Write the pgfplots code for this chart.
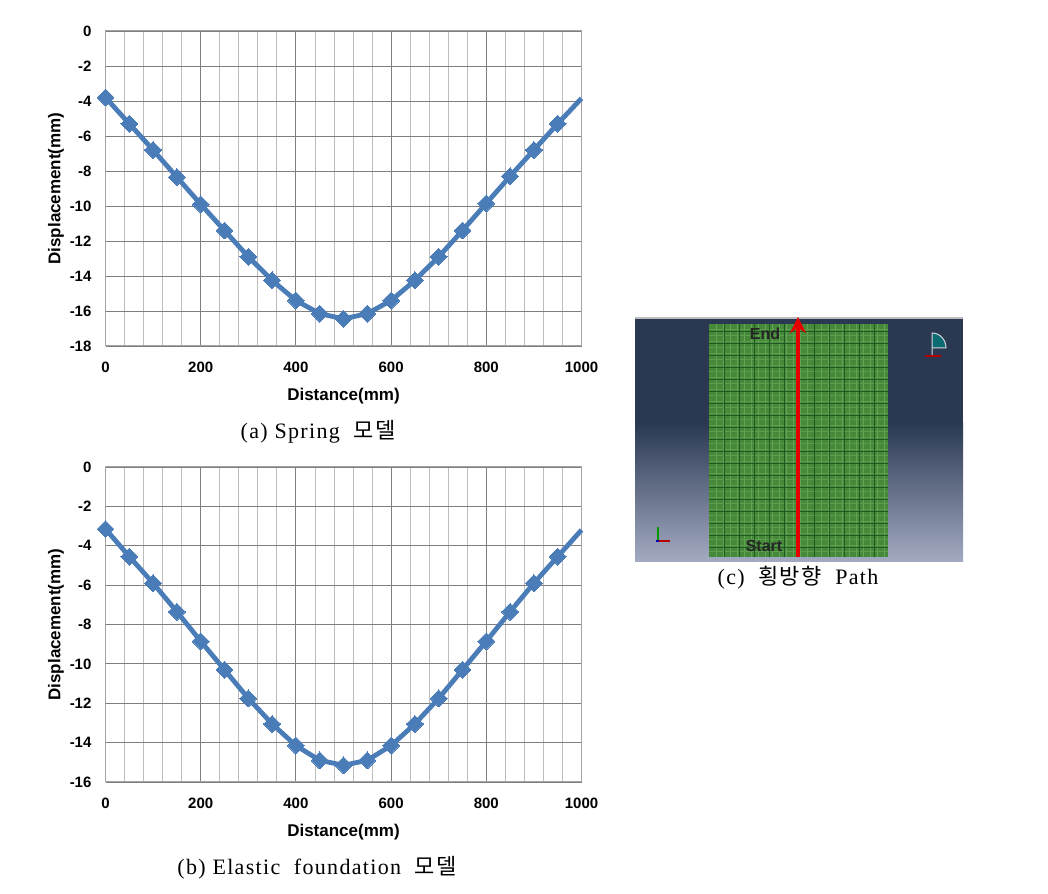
\documentclass[border=0pt]{standalone}
\usepackage{fontspec}
\setmainfont{Liberation Serif}
\newfontfamily\capfont[LetterSpace=6]{Liberation Serif}
\newfontfamily\labfont{Liberation Sans}
\newfontfamily\cjk[LetterSpace=6]{Noto Sans CJK KR}
\usepackage{pgfplots}
\pgfplotsset{compat=1.18}
\usetikzlibrary{arrows.meta}
\definecolor{linecol}{HTML}{4A7DB8}
\definecolor{majgrid}{HTML}{7F7F7F}
\definecolor{mingrid}{HTML}{BDBDBD}
\definecolor{navy}{HTML}{2A3852}
\definecolor{steel}{HTML}{A3ABC2}
\definecolor{meshgreen}{HTML}{46893B}
\definecolor{meshdark}{HTML}{1E5A22}
\definecolor{meshlight}{HTML}{62A554}
\pgfplotstableread{
x y
0 -3.8
50 -5.3
100 -6.8
150 -8.35
200 -9.9
250 -11.4
300 -12.9
350 -14.25
400 -15.4
450 -16.15
500 -16.45
550 -16.15
600 -15.4
650 -14.25
700 -12.9
750 -11.4
800 -9.85
850 -8.3
900 -6.8
950 -5.3
1000 -3.85
}\springdata
\pgfplotstableread{
x y
0 -3.15
50 -4.55
100 -5.9
150 -7.35
200 -8.85
250 -10.3
300 -11.75
350 -13.05
400 -14.15
450 -14.9
500 -15.15
550 -14.9
600 -14.15
650 -13.05
700 -11.75
750 -10.3
800 -8.85
850 -7.35
900 -5.9
950 -4.55
1000 -3.2
}\elasticdata
\pgfplotsset{
  dispaxis/.style={
    width=238pt, height=157.5pt, scale only axis,
    xmin=0, xmax=1000,
    xtick={0,200,...,1000}, minor x tick num=4,
    ytick distance=2,
    grid=both,
    major grid style={majgrid, line width=0.45pt},
    minor grid style={mingrid, line width=0.4pt},
    axis line style={mingrid!60!majgrid, line width=0.5pt},
    major tick length=0pt, minor tick length=0pt,
    clip=false,
    /pgf/number format/assume math mode=true,
    /pgf/number format/1000 sep={},
    tick label style={font=\labfont\bfseries\fontsize{7.5}{9}\selectfont},
    label style={font=\labfont\bfseries\fontsize{8.5}{10}\selectfont},
    xticklabel style={yshift=-4.5pt},
    yticklabel style={xshift=-3.5pt},
    xlabel={Distance(mm)},
    ylabel={Displacement(mm)},
    xlabel style={yshift=-1pt},
    ylabel style={yshift=-4pt},
  },
  dispcurve/.style={
    linecol, line width=2.4pt, mark=square*,
    mark size=3pt, mark options={fill=linecol, draw=linecol, line width=0pt, rotate=45},
    mark indices={1,2,...,20},
  },
}
\begin{document}
\begin{tikzpicture}[x=0.5pt,y=0.5pt]
\path[use as bounding box] (0,0) rectangle (1048,893);

\begin{axis}[dispaxis, at={(52.75pt,273.5pt)}, anchor=south west, ymin=-18, ymax=0]
\addplot[dispcurve] table {\springdata};
\end{axis}

\begin{axis}[dispaxis, at={(52.75pt,55.5pt)}, anchor=south west, ymin=-16, ymax=0]
\addplot[dispcurve] table {\elasticdata};
\end{axis}

% captions
\node[font=\capfont\fontsize{11}{13}\selectfont] at (318,461) {(a) Spring\ \ {\cjk\fontsize{11}{13}\selectfont 모델}};
\node[font=\capfont\fontsize{11}{13}\selectfont] at (317,25) {(b) Elastic\ \ foundation\ \ {\cjk\fontsize{11}{13}\selectfont 모델}};
\node[font=\capfont\fontsize{11}{13}\selectfont] at (798,315) {(c)\ \ {\cjk\fontsize{11}{13}\selectfont 횡방향}\ \ Path};

% panel (c): model view
\fill[navy] (635,470) rectangle (963,575);
\shade[top color=navy, bottom color=steel] (635,331) rectangle (963,470);
\draw[mingrid, line width=0.6pt] (635,575) -- (963,575);
\fill[meshgreen] (709,336) rectangle (888,569);
\foreach \xx in {716,723,...,885} \draw[meshlight, line width=0.4pt] (\xx,336) -- (\xx,569);
\foreach \yy in {342,348,...,566} \draw[meshlight!70!meshgreen, line width=0.3pt] (709,\yy) -- (888,\yy);
\foreach \xx in {724,739,...,885} \draw[meshdark, line width=0.45pt] (\xx,336) -- (\xx,569);
\foreach \yy in {345,357,...,566} \draw[meshdark, line width=0.5pt] (709,\yy) -- (888,\yy);
\draw[red!90!black, line width=2pt, -{Stealth[length=8pt,width=8pt]}] (798,336) -- (798,576);
\node[font=\labfont\bfseries\fontsize{8}{9}\selectfont, text=black!85] at (765,559) {End};
\node[font=\labfont\bfseries\fontsize{8}{9}\selectfont, text=black!85] at (764,347) {Start};
% view triad and symmetry icon
\draw[green!60!black, line width=0.7pt] (658,352) -- (658,366);
\draw[red!70!black, line width=0.7pt] (658,352) -- (670,352);
\fill[blue!70!black] (656,350.5) rectangle (659,353);
\fill[teal!70!navy] (932,545) -- (932,560) arc (90:0:14 and 15) -- cycle;
\draw[white!80!navy, line width=0.5pt] (932,537) -- (932,560) arc (90:0:14 and 15) -- (932,545);
\draw[red!70!black, line width=0.7pt] (925,537) -- (941,537);
\end{tikzpicture}
\end{document}
